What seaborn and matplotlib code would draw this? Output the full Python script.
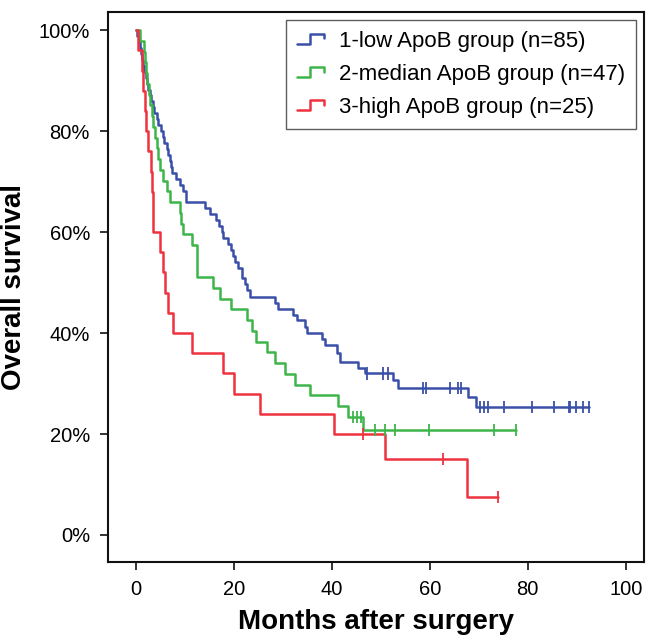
import numpy as np
import pandas as pd
import matplotlib
matplotlib.use("Agg")
import matplotlib.pyplot as plt
from matplotlib.lines import Line2D
from matplotlib.legend_handler import HandlerBase
import seaborn as sns

# group names
groups = ["1-low ApoB group (n=85)", "2-median ApoB group (n=47)", "3-high ApoB group (n=25)"]
colors = ["#3a50a8", "#3db54a", "#ee333f"]

# step points (months, survival %)
low_t = [0, 0.3, 0.6, 0.8, 1.0, 1.2, 1.5, 1.7, 2.0, 2.3, 2.5, 2.8, 3.0, 3.4, 3.7, 4.2, 4.5,
         5.2, 5.5, 5.8, 6.3, 6.6, 6.9, 7.1, 7.3, 8.2, 9.0, 9.6, 10.3, 14.1, 15.1, 16.3, 17.0,
         17.5, 17.8, 18.8, 19.5, 19.8, 20.2, 20.9, 21.6, 22.2, 22.7, 23.3, 28.4, 29.0, 32.0,
         32.8, 34.5, 35.0, 37.9, 38.5, 41.0, 41.6, 45.3, 46.7, 52.4, 53.5, 67.8, 69.4]
low_s = [100, 98.8, 97.6, 96.5, 95.3, 94.1, 92.9, 91.8, 90.6, 89.4, 88.2, 87.1, 85.9, 84.7,
         83.5, 82.4, 81.2, 80.0, 78.8, 77.6, 76.5, 75.3, 74.1, 72.9, 71.8, 70.6, 69.4, 68.2,
         65.9, 64.7, 63.5, 62.4, 61.2, 60.0, 58.8, 57.6, 56.5, 55.3, 54.1, 52.9, 51.0, 49.8,
         48.5, 47.2, 45.9, 44.8, 43.6, 42.5, 41.2, 40.0, 38.8, 37.6, 36.0, 34.3, 33.0, 32.0,
         30.7, 29.1, 27.3, 25.4]
low_cens = [47.1, 50.5, 51.4, 58.6, 59.3, 64.1, 65.8, 66.3, 70.2, 71.0, 71.9, 75.1, 80.9,
            85.3, 88.4, 88.7, 89.9, 91.3, 92.5]

med_t = [0, 0.8, 1.6, 1.9, 2.1, 2.3, 2.6, 2.9, 3.2, 3.5, 3.8, 4.2, 4.6, 5.0, 5.5, 6.3, 6.9,
         9.0, 9.3, 9.7, 11.4, 12.4, 15.8, 17.1, 19.5, 22.6, 23.6, 24.5, 26.7, 28.4, 30.4,
         32.4, 35.5, 41.3, 43.3, 46.4]
med_s = [100, 97.9, 95.7, 93.6, 91.5, 89.4, 87.2, 85.1, 83.0, 80.9, 78.7, 76.6, 74.5, 72.3,
         70.2, 68.1, 66.0, 63.8, 61.7, 59.6, 57.4, 51.1, 48.9, 46.8, 44.7, 42.6, 40.4, 38.3,
         36.2, 34.0, 31.9, 29.8, 27.7, 25.5, 23.4, 20.8]
med_cens = [44.4, 45.2, 45.9, 48.8, 50.8, 52.9, 59.9, 73.1, 77.5]

high_t = [0, 0.5, 1.2, 1.5, 1.8, 2.0, 2.5, 3.0, 3.2, 3.4, 3.5, 4.9, 5.6, 5.9, 6.6, 7.6,
          11.4, 17.8, 20.0, 25.4, 40.4, 50.8, 67.5]
high_s = [100, 96, 92, 88, 84, 80, 76, 72, 68, 64, 60, 56, 52, 48, 44, 40, 36, 32, 28, 24,
          20, 15, 7.5]
high_cens = [46.4, 62.7, 74.0]

series = [(low_t, low_s, low_cens), (med_t, med_s, med_cens), (high_t, high_s, high_cens)]

curve_rows = []
cens_rows = []
for g, (t, s, c) in zip(groups, series):
    t = list(t) + [max(c)]
    s = list(s) + [s[-1]]
    for ti, si in zip(t, s):
        curve_rows.append((g, ti, si / 100))
    for ci in c:
        idx = np.searchsorted(t, ci, side="right") - 1
        cens_rows.append((g, ci, s[idx] / 100))
curves = pd.DataFrame(curve_rows, columns=["group", "months", "surv"])
cens = pd.DataFrame(cens_rows, columns=["group", "months", "surv"])

sns.set_style("white")
plt.rcParams["font.family"] = ["Liberation Sans", "DejaVu Sans"]
plt.rcParams["text.color"] = "black"

fig = plt.figure(figsize=(6.57, 6.42), dpi=100)
ax = fig.add_axes([0.1644, 0.1246, 0.8156, 0.8567])
pal = dict(zip(groups, colors))

sns.lineplot(data=curves, x="months", y="surv", hue="group", palette=pal, estimator=None,
             drawstyle="steps-post", lw=1.8, legend=False, ax=ax)
sns.scatterplot(data=cens, x="months", y="surv", hue="group", palette=pal, marker="|",
                s=80, linewidth=1.3, legend=False, ax=ax, zorder=3)

ax.set_xlim(-5.7, 103.7)
ax.set_ylim(-0.0535, 1.036)
ax.set_xticks([0, 20, 40, 60, 80, 100])
ax.set_yticks([0, 0.2, 0.4, 0.6, 0.8, 1.0])
ax.set_yticklabels(["0%", "20%", "40%", "60%", "80%", "100%"])
ax.tick_params(axis="both", direction="out", length=6, width=1.2, labelsize=14.5,
               pad=7, colors="#111111", labelcolor="black", left=True, bottom=True)
for sp in ax.spines.values():
    sp.set_visible(True)
    sp.set_color("#111111")
    sp.set_linewidth(1.5)

ax.set_xlabel("Months after surgery", fontsize=20, fontweight="bold", labelpad=7,
              color="black")
ax.set_ylabel("Overall survival", fontsize=20, fontweight="bold", labelpad=8,
              color="black")


class StepHandler(HandlerBase):
    def create_artists(self, legend, orig, xdescent, ydescent, width, height, fontsize, trans):
        x0 = -xdescent
        y0 = -ydescent
        xs = np.array([0, 0.45, 0.45, 0.95, 0.95]) * width + x0
        ys = np.array([0.2, 0.2, 0.85, 0.85, 0.55]) * height + y0
        ln = Line2D(xs, ys, color=orig.get_color(), lw=1.8, transform=trans)
        return [ln]


handles = [Line2D([], [], color=c) for c in colors]
leg = ax.legend(handles, groups, loc="upper right", fontsize=16, frameon=True,
                fancybox=False, edgecolor="#333333", borderaxespad=0.35,
                handlelength=1.3, handletextpad=0.6, labelspacing=0.55,
                borderpad=0.5, labelcolor="black", handler_map={Line2D: StepHandler()})
leg.get_frame().set_linewidth(1.0)

fig.savefig("out.png", dpi=100)
